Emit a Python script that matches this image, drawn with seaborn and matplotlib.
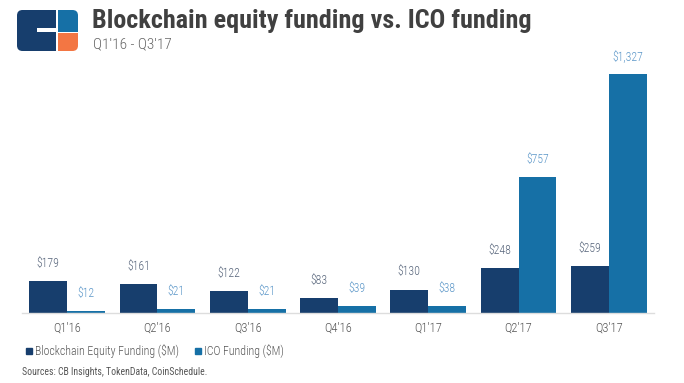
import matplotlib
matplotlib.use("Agg")
import matplotlib.pyplot as plt
import seaborn as sns
import pandas as pd
from matplotlib.patches import FancyBboxPatch, Rectangle
from matplotlib.lines import Line2D

quarters = ["Q1'16", "Q2'16", "Q3'16", "Q4'16", "Q1'17", "Q2'17", "Q3'17"]
equity = [179, 161, 122, 83, 130, 248, 259]
ico = [12, 21, 21, 39, 38, 757, 1327]
series = ["Blockchain Equity Funding ($M)", "ICO Funding ($M)"]
colors = ["#173e6d", "#1670a6"]
label_colors = ["#56647a", "#5a96c8"]

df = pd.DataFrame({
    "quarter": quarters * 2,
    "value": equity + ico,
    "series": [series[0]] * len(quarters) + [series[1]] * len(quarters),
})

sns.set_theme(style="white")
COND = ["Roboto Condensed", "Barlow Condensed", "Asap Condensed", "DejaVu Sans"]
plt.rcParams["font.family"] = COND

W, H = 684, 383
fig = plt.figure(figsize=(W / 100, H / 100), dpi=100)
ax = fig.add_axes([22 / W, (H - 313) / H, (654 - 22) / W, (313 - 58) / H])

sns.barplot(data=df, x="quarter", y="value", hue="series", palette=colors,
            width=0.84, saturation=1, ax=ax, legend=False, order=quarters,
            hue_order=series, linewidth=0)

for cont, lc in zip(ax.containers, label_colors):
    labels = [f"${v:,.0f}" for v in cont.datavalues]
    ax.bar_label(cont, labels=labels, padding=8, fontsize=8.5, color=lc,
                 fontweight="light")

ax.set_ylim(0, 1327 * (313 - 58) / 239)
ax.set_xlim(-0.5, 6.5)
ax.set_xlabel("")
ax.set_ylabel("")
ax.set_yticks([])
for s in ["top", "right", "left"]:
    ax.spines[s].set_visible(False)
ax.spines["bottom"].set_color("#dddddd")
ax.spines["bottom"].set_linewidth(1)
ax.tick_params(axis="x", length=0, pad=6, labelsize=9, labelcolor="#555555")
for t in ax.get_xticklabels():
    t.set_fontweight("light")

handles = [Line2D([0], [0], marker="s", linestyle="", markersize=5,
                  markerfacecolor=c, markeredgecolor=c) for c in colors]
fig.legend(handles, series, loc="center left", bbox_to_anchor=(14 / W, 1 - 351 / H),
           ncol=2, frameon=False, prop={"size": 8.5, "weight": "light"},
           labelcolor="#555555", handletextpad=0.1, columnspacing=1.2,
           handlelength=0.8)

fig.text(22 / W, 1 - 372 / H, "Sources: CB Insights, TokenData, CoinSchedule.",
         fontsize=7, color="#555555", va="center", ha="left")

fig.text(92 / W, 1 - 21 / H, "Blockchain equity funding vs. ICO funding",
         fontsize=18.8, fontweight="bold", color="#404040", va="center", ha="left")
fig.text(93 / W, 1 - 44 / H, "Q1'16 - Q3'17", fontsize=11, color="#666666",
         fontweight="light", va="center", ha="left")

# logo, drawn in pixel units via inches (dpi = 100)
T = fig.dpi_scale_trans

def rect(x0, y0, x1, y1, color):
    return Rectangle((x0 / 100, (H - y1) / 100), (x1 - x0) / 100, (y1 - y0) / 100,
                     transform=T, facecolor=color, edgecolor="none")

clip = FancyBboxPatch((17 / 100, (H - 51) / 100), 61 / 100, 41 / 100,
                      boxstyle="round,pad=0,rounding_size=0.055",
                      transform=T, facecolor="none", edgecolor="none")
fig.patches.append(clip)
for p in [rect(17, 10, 56, 51, "#173e6d"),
          rect(58, 10, 78, 32, "#1670a6"),
          rect(58, 33, 78, 51, "#f37643"),
          rect(37, 28, 56, 32, "#ffffff")]:
    fig.patches.append(p)
    p.set_clip_path(clip)

fig.savefig("out.png", dpi=100)
